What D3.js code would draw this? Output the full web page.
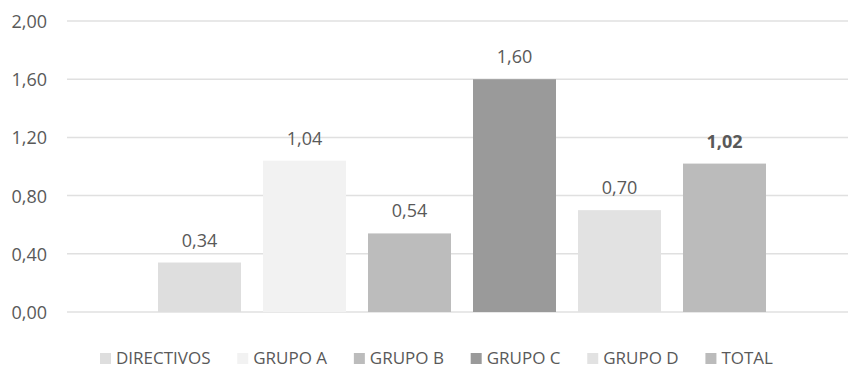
<!DOCTYPE html>
<html><head><meta charset="utf-8">
<script src="https://cdn.jsdelivr.net/npm/d3@7/dist/d3.min.js"></script>
<style>
html,body{margin:0;padding:0;background:#fff;}
svg{display:block;font-family:"Open Sans",sans-serif;}
</style></head>
<body>
<svg id="c" width="848" height="369"></svg>
<script>
const series = ["DIRECTIVOS","GRUPO A","GRUPO B","GRUPO C","GRUPO D","TOTAL"];
const values = [0.34, 1.04, 0.54, 1.60, 0.70, 1.02];
const colors = ["#dedede","#f2f2f2","#bcbcbc","#9a9a9a","#e2e2e2","#bbbbbb"];
const boldLabel = [false,false,false,false,false,true];
const yTicks = [0, 0.4, 0.8, 1.2, 1.6, 2.0];

const fmt = v => d3.format(".2f")(v).replace(".", ",");
const svg = d3.select("#c");
const textColor = "#595959";

const y = d3.scaleLinear().domain([0, 2]).range([312, 21]);
const x = d3.scaleBand().domain(series).range([158, 766]).paddingInner(22/105).paddingOuter(0);

// gridlines
svg.append("g").selectAll("line").data(yTicks).join("line")
  .attr("x1", 67).attr("x2", 848)
  .attr("y1", d => y(d)).attr("y2", d => y(d))
  .attr("stroke", "#e0e0e0").attr("stroke-width", 1.5);

// y axis labels
const yAxis = d3.axisLeft(y).tickValues(yTicks).tickFormat(fmt).tickSize(0).tickPadding(0);
const ga = svg.append("g").attr("transform", "translate(47,0)").call(yAxis);
ga.select(".domain").remove();
ga.selectAll("text").attr("fill", textColor).style("font-size", "18px")
  .style("font-family", "'Open Sans',sans-serif").attr("dy", "0.36em");

// bars
svg.append("g").selectAll("rect").data(series).join("rect")
  .attr("x", d => x(d)).attr("width", x.bandwidth())
  .attr("y", (d,i) => y(values[i])).attr("height", (d,i) => y(0) - y(values[i]))
  .attr("fill", (d,i) => colors[i]);

// value labels
svg.append("g").selectAll("text").data(series).join("text")
  .attr("x", d => x(d) + x.bandwidth()/2)
  .attr("y", (d,i) => y(values[i]) - 16)
  .attr("text-anchor", "middle")
  .attr("fill", textColor).style("font-size", "18px")
  .style("font-weight", (d,i) => boldLabel[i] ? "bold" : "normal")
  .text((d,i) => fmt(values[i]));

// legend
const lg = svg.append("g");
const items = lg.selectAll("g").data(series).join("g");
items.append("rect").attr("width", 11).attr("height", 11).attr("y", -11)
  .attr("fill", (d,i) => colors[i]);
items.append("text").attr("x", 16).attr("y", 0)
  .attr("fill", textColor).style("font-size", "17px").text(d => d);
const widths = [];
items.each(function(){ widths.push(this.querySelector("text").getComputedTextLength()); });
const left = 100, right = 773;
const sumItems = d3.sum(widths) + 16 * series.length;
const gap = (right - left - sumItems) / (series.length - 1);
let pos = left;
const xs = widths.map(w => { const p = pos; pos += 16 + w + gap; return p; });
items.attr("transform", (d,i) => `translate(${xs[i]},364)`);
</script>
</body></html>
